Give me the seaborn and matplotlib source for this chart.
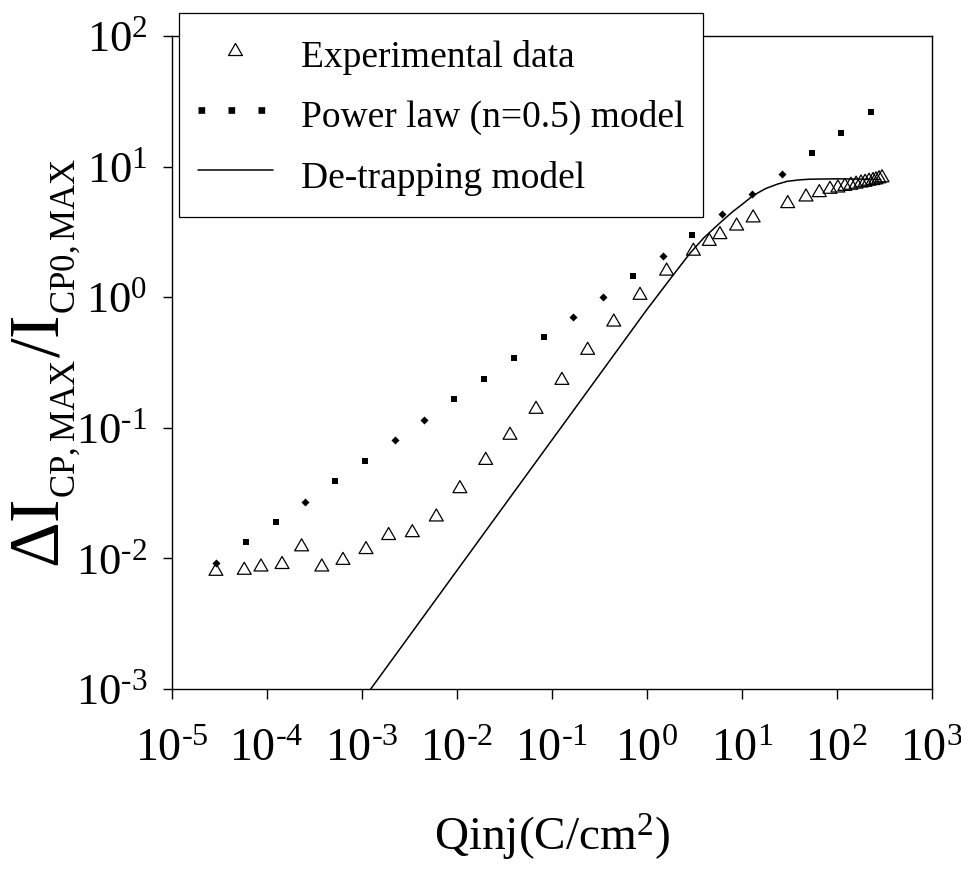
import matplotlib
matplotlib.use("Agg")
import matplotlib.pyplot as plt
import seaborn as sns
import pandas as pd
from matplotlib.path import Path
from matplotlib.lines import Line2D

# ---------------- data ----------------
exp_q = [2.92e-5, 5.8e-5, 8.7e-5, 1.45e-4, 2.33e-4, 3.8e-4, 6.35e-4, 1.11e-3,
         1.92e-3, 3.41e-3, 6.1e-3, 1.08e-2, 2.02e-2, 3.64e-2, 6.84e-2, 0.128,
         0.239, 0.45, 0.85, 1.62, 3.1, 4.56, 5.9, 8.85, 13.2, 30.5, 47.5, 65.6,
         85, 103, 122, 141, 160, 180, 199, 219, 241, 259, 279, 300]
exp_ratio = [0.00825, 0.0084, 0.0089, 0.0093, 0.0127, 0.0089, 0.0100, 0.0121,
             0.0155, 0.0163, 0.0215, 0.0354, 0.0583, 0.0908, 0.1435, 0.239,
             0.406, 0.668, 1.07, 1.64, 2.33, 2.77, 3.12, 3.63, 4.19, 5.39, 6.06,
             6.54, 6.94, 7.1, 7.3, 7.45, 7.6, 7.75, 7.85, 8.0, 8.1, 8.2, 8.35, 8.5]

power_q = [2.92e-5, 6.05e-5, 1.245e-4, 2.53e-4, 5.24e-4, 1.076e-3, 2.22e-3,
           4.56e-3, 9.38e-3, 0.0194, 0.0398, 0.0824, 0.1686, 0.347, 0.713, 1.47,
           3.02, 6.15, 12.7, 26.4, 54.6, 112, 230]
power_ratio = [0.00927, 0.0133, 0.019, 0.0272, 0.0392, 0.056, 0.0807, 0.115,
               0.165, 0.2377, 0.34, 0.493, 0.705, 1.01, 1.45, 2.07, 2.98, 4.31,
               6.17, 8.78, 12.8, 18.2, 26.1]

detrap_q = [1.245e-3, 0.0349, 0.3, 1.0, 2.0, 2.86, 4.0, 5.9, 8.0, 10.0, 13.2,
            18.0, 24.0, 30.0, 40.0, 52.0, 100.0, 200.0, 290.0]
detrap_ratio = [1.0e-3, 0.028, 0.24, 0.8, 1.55, 2.17, 2.85, 3.7, 4.5, 5.1, 6.0,
                6.8, 7.35, 7.7, 7.9, 8.0, 8.05, 8.0, 7.95]

series_labels = ["Experimental data", "Power law (n=0.5) model", "De-trapping model"]

xtick_vals = [1e-5, 1e-4, 1e-3, 1e-2, 1e-1, 1e0, 1e1, 1e2, 1e3]
xtick_labels = [r"$\mathregular{10^{\text{-}5}}$", r"$\mathregular{10^{\text{-}4}}$",
                r"$\mathregular{10^{\text{-}3}}$", r"$\mathregular{10^{\text{-}2}}$",
                r"$\mathregular{10^{\text{-}1}}$", r"$\mathregular{10^{0}}$",
                r"$\mathregular{10^{1}}$", r"$\mathregular{10^{2}}$", r"$\mathregular{10^{3}}$"]
ytick_vals = [1e-3, 1e-2, 1e-1, 1e0, 1e1, 1e2]
ytick_labels = [r"$\mathregular{10^{\text{-}3}}$", r"$\mathregular{10^{\text{-}2}}$",
                r"$\mathregular{10^{\text{-}1}}$", r"$\mathregular{10^{0}}$",
                r"$\mathregular{10^{1}}$", r"$\mathregular{10^{2}}$"]

# marker shape of each power-law dot as rendered in the reference (style only)
power_marker = ["D", "s", "s", "D", "s", "s", "D", "D", "s", "s", "s", "s",
                "D", "D", "s", "D", "s", "D", "D", "D", "s", "s", "s"]

# ---------------- style ----------------
sns.set_theme(style="ticks")
plt.rcParams.update({
    "font.family": ["Liberation Serif", "DejaVu Serif"],
    "mathtext.fontset": "custom",
    "mathtext.rm": "Liberation Serif",
    "mathtext.it": "Liberation Serif:italic",
    "mathtext.bf": "Liberation Serif:bold",
    "mathtext.default": "regular",
    "axes.edgecolor": "black",
    "axes.labelcolor": "black",
    "text.color": "black",
    "xtick.color": "black",
    "ytick.color": "black",
})

fig = plt.figure(figsize=(9.62, 8.72), dpi=100)
ax = fig.add_axes([0.1785, 0.2099, 0.790, 0.7489])

tri = Path([(-1, -0.866), (1, -0.866), (0, 0.866), (-1, -0.866)],
           [Path.MOVETO, Path.LINETO, Path.LINETO, Path.CLOSEPOLY])

detrap_df = pd.DataFrame({"q": detrap_q, "r": detrap_ratio})
exp_df = pd.DataFrame({"q": exp_q, "r": exp_ratio})
power_df = pd.DataFrame({"q": power_q, "r": power_ratio, "m": power_marker})

sns.lineplot(data=detrap_df, x="q", y="r", ax=ax, color="black", linewidth=1.1,
             sort=False, estimator=None, zorder=2)
sns.scatterplot(data=exp_df, x="q", y="r", ax=ax, marker=tri, s=100,
                color="none", edgecolor="black", linewidth=0.9, zorder=3)
sq = power_df[power_df["m"] == "s"]
di = power_df[power_df["m"] == "D"]
sns.scatterplot(data=sq, x="q", y="r", ax=ax, marker="s", s=4.6 ** 2,
                color="black", edgecolor="black", linewidth=0, zorder=4)
sns.scatterplot(data=di, x="q", y="r", ax=ax, marker="D", s=4.1 ** 2,
                color="black", edgecolor="black", linewidth=0, zorder=4)

ax.set_xscale("log")
ax.set_yscale("log")
ax.set_xlim(1e-5, 1e3)
ax.set_ylim(1e-3, 1e2)
ax.set_xticks(xtick_vals, labels=xtick_labels)
ax.set_yticks(ytick_vals, labels=ytick_labels)
ax.minorticks_off()
ax.tick_params(axis="x", direction="out", length=7.2, width=1.0, pad=21, labelsize=33)
ax.tick_params(axis="y", direction="out", length=6.5, width=1.0, pad=11, labelsize=32)
for sp in ax.spines.values():
    sp.set_visible(True)
    sp.set_color("black")
    sp.set_linewidth(1.0)

ax.set_xlabel(r"Qinj(C/cm$^{2}$)", fontsize=34, labelpad=30)
ax.set_ylabel(r"$\Delta\mathregular{I_{{}_{CP,MAX}}/I_{{}_{CP0,MAX}}}$", fontsize=51, labelpad=-5)

h_exp = Line2D([], [], marker=tri, markersize=10, markerfacecolor="none",
               markeredgecolor="black", markeredgewidth=0.9, linestyle="none")
h_pow = Line2D([], [], color="black", linewidth=4.8, linestyle=(0, (1, 3.5)),
               dash_capstyle="butt")
h_dt = Line2D([], [], color="black", linewidth=1.1)
leg = ax.legend([h_exp, h_pow, h_dt], series_labels, loc="upper left",
                bbox_to_anchor=(0.0096, 1.0357), borderaxespad=0, fontsize=27,
                handlelength=2.0, handletextpad=0.75, borderpad=0.5,
                handleheight=1.5, labelspacing=0.4, numpoints=1, frameon=True,
                fancybox=False, edgecolor="black", framealpha=1)
leg.get_frame().set_linewidth(0.9)

fig.savefig("out.png", dpi=100)
